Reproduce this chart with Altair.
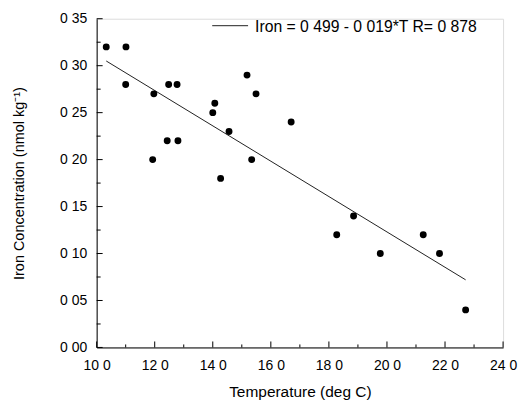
import altair as alt
import pandas as pd

# Data
temperature = [10.33, 11.01, 11.00, 11.97, 11.93, 12.43, 12.48, 12.77, 12.80,
               14.00, 14.07, 14.56, 14.27, 15.18, 15.34, 15.49, 16.70,
               18.27, 18.85, 19.77, 21.25, 21.81, 22.71]
iron = [0.32, 0.32, 0.28, 0.27, 0.20, 0.22, 0.28, 0.28, 0.22,
        0.25, 0.26, 0.23, 0.18, 0.29, 0.20, 0.27, 0.24,
        0.12, 0.14, 0.10, 0.12, 0.10, 0.04]

# Regression line end points (as drawn)
fit_t = [10.33, 22.71]
fit_iron = [0.305, 0.072]

legend_text = "Iron = 0 499 - 0 019*T R= 0 878"

x_major = [10, 12, 14, 16, 18, 20, 22, 24]
x_minor = [11, 13, 15, 17, 19, 21, 23]
y_major = [0.00, 0.05, 0.10, 0.15, 0.20, 0.25, 0.30, 0.35]
y_minor = [0.025, 0.075, 0.125, 0.175, 0.225, 0.275, 0.325]

W, H = 408, 330
FONT = "Liberation Sans"

pts = pd.DataFrame({"T": temperature, "iron": iron})
fit = pd.DataFrame({"T": fit_t, "iron": fit_iron})

xscale = alt.Scale(domain=[10, 24], nice=False, zero=False)
yscale = alt.Scale(domain=[0, 0.35], nice=False, zero=False)

x_axis = alt.Axis(values=x_major, labelExpr="replace(format(datum.value, '.1f'), '.', ' ')",
                  ticks=False, tickSize=0, grid=False, labelPadding=11, labelFlush=False,
                  labelFontSize=14, labelFont=FONT, labelColor="black",
                  domainColor="black", domainWidth=1,
                  titleFontSize=15.5, titleFont=FONT,
                  titleFontWeight="normal", titleColor="black", titlePadding=12)
y_axis = alt.Axis(values=y_major, labelExpr="replace(format(datum.value, '.2f'), '.', ' ')",
                  ticks=False, tickSize=0, grid=False, labelPadding=10, labelFlush=False,
                  labelFontSize=14, labelFont=FONT, labelColor="black",
                  domainColor="black", domainWidth=1,
                  titleFontSize=14.5, titleFont=FONT,
                  titleFontWeight="normal", titleColor="black", titlePadding=33)

XT = "Temperature (deg C)"
YT = "Iron Concentration (nmol kg⁻¹)"

def X():
    return alt.X("T:Q", scale=xscale, axis=x_axis, title=XT)

def Y():
    return alt.Y("iron:Q", scale=yscale, axis=y_axis, title=YT)

points = alt.Chart(pts).mark_circle(size=48, color="black", opacity=1).encode(x=X(), y=Y())

line = alt.Chart(fit).mark_line(color="#222222", strokeWidth=1).encode(x=X(), y=Y())

def yticks(vals, length):
    return alt.Chart(pd.DataFrame({"iron": vals})).mark_rule(color="black", strokeWidth=1).encode(
        y=Y(), x=alt.value(0), x2=alt.value(length))

def xticks(vals, length):
    return alt.Chart(pd.DataFrame({"T": vals})).mark_rule(color="black", strokeWidth=1).encode(
        x=X(), y=alt.value(H), y2=alt.value(H - length))

leg_line = alt.Chart(pd.DataFrame({"k": [0]})).mark_rule(color="#222222", strokeWidth=1).encode(
    x=alt.value(116), x2=alt.value(152), y=alt.value(7))
leg_text = alt.Chart(pd.DataFrame({"k": [legend_text]})).mark_text(
    align="left", baseline="alphabetic", fontSize=15.8, font=FONT, color="black").encode(
    x=alt.value(159), y=alt.value(13), text="k:N")

chart = alt.layer(
    line, points,
    yticks(y_major, 6), yticks(y_minor, 4),
    xticks(x_major, 6), xticks(x_minor, 3),
    leg_line, leg_text,
).properties(
    width=W, height=H,
    autosize=alt.AutoSizeParams(type="none"),
    padding={"left": 89, "top": 10, "right": 20, "bottom": 56},
).configure_view(stroke=None).configure(background="white")

chart.save("out.html", embed_options={"renderer": "svg", "actions": False})
